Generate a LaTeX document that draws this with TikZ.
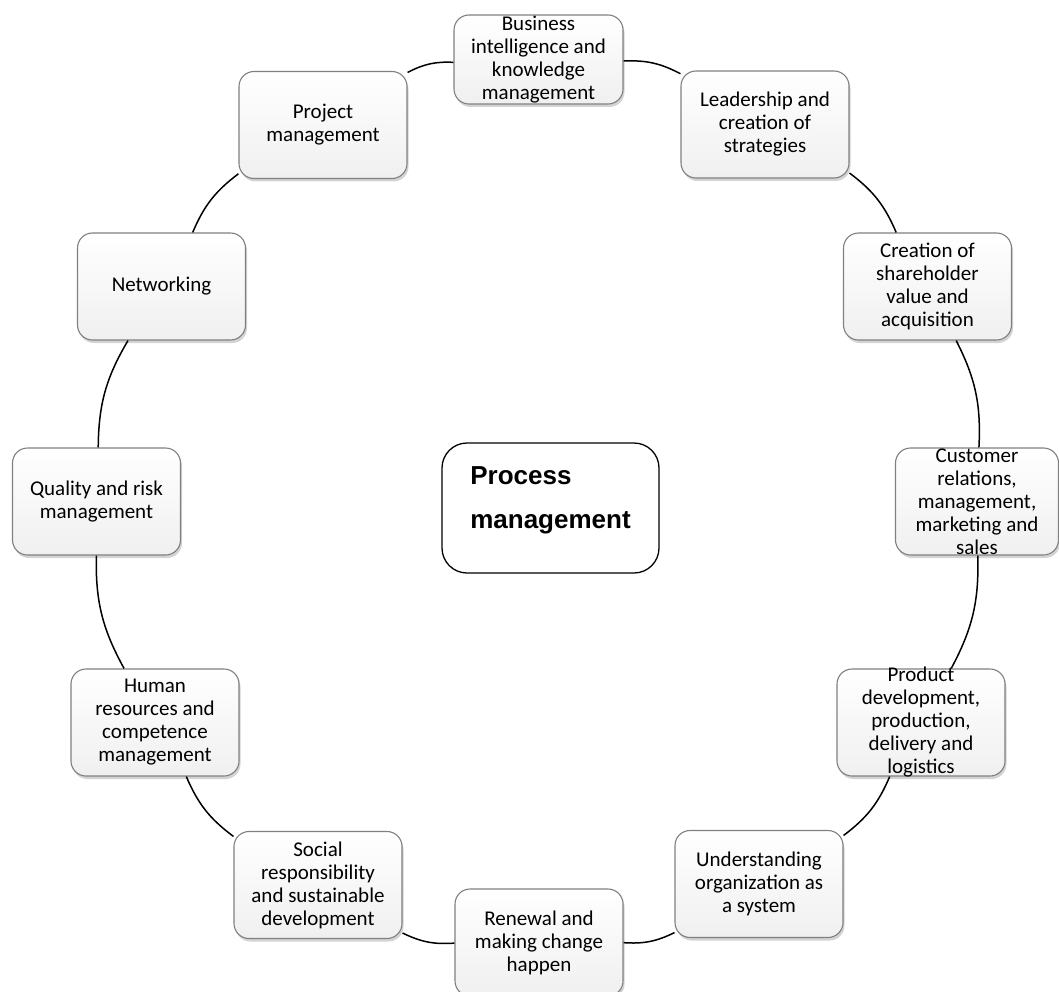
\documentclass[tikz,border=0pt]{standalone}
\usepackage{fontspec}
\setmainfont{Carlito}
\newfontfamily\arialfont{Liberation Sans}
\usetikzlibrary{shadows}
\tikzset{
  cbox/.style={draw=black!50, line width=1.1pt, rounded corners=15pt,
    top color=white, bottom color=black!6,
    drop shadow={opacity=0.35, shadow xshift=1.5pt, shadow yshift=-3pt},
    minimum width=168pt, minimum height=107pt, inner sep=0pt},
  ctext/.style={align=center, font=\fontsize{21}{23}\selectfont, inner sep=0pt},
  mainbox/.style={draw=black, line width=1.3pt, rounded corners=25pt, fill=white,
    minimum width=217pt, minimum height=130pt, inner sep=0pt},
  mtext/.style={align=left, font=\arialfont\bfseries\fontsize{26}{44}\selectfont, inner sep=0pt},
  link/.style={draw=black, line width=1.5pt}
}
\begin{document}
\begin{tikzpicture}[x=1pt,y=-1pt]
\useasboundingbox (0,0) rectangle (1059,992);
\node[cbox, minimum width=169pt, minimum height=89pt, label={[ctext]center:Business\\intelligence and\\knowledge\\management}] (n1) at (538.5,59.5) {};
\node[cbox, label={[ctext]center:Leadership and\\creation of\\strategies}] (n2) at (765,124.5) {};
\node[cbox, label={[ctext]center:Creation of\\shareholder\\value and\\acquisition}] (n3) at (927.5,286.5) {};
\node[cbox, minimum width=163pt, label={[ctext]center:Customer\\relations,\\management,\\marketing and\\sales}] (n4) at (977,501.5) {};
\node[cbox, label={[ctext]center:Product\\development,\\production,\\delivery and\\logistics}] (n5) at (921,722.5) {};
\node[cbox, label={[ctext]center:Understanding\\organization as\\a system}] (n6) at (759,884) {};
\node[cbox, label={[ctext]center:Renewal and\\making change\\happen}] (n7) at (539,942.5) {};
\node[cbox, label={[ctext]center:Social\\responsibility\\and sustainable\\development}] (n8) at (318,885) {};
\node[cbox, label={[ctext]center:Human\\resources and\\competence\\management}] (n9) at (155,722.5) {};
\node[cbox, label={[ctext]center:Quality and risk\\management}] (n10) at (96.5,501.5) {};
\node[cbox, label={[ctext]center:Networking}] (n11) at (161.5,286.5) {};
\node[cbox, label={[ctext]center:Project\\management}] (n12) at (323,125) {};
\node[mainbox, label={[mtext, yshift=8pt]center:Process\\management}] (pm) at (550.5,508) {};
\foreach \a/\b in {n1/n2,n2/n3,n3/n4,n4/n5,n5/n6,n6/n7,n7/n8,n8/n9,n9/n10,n10/n11,n11/n12,n12/n1}
  \draw[link] (\a) to[bend left=15] (\b);
\end{tikzpicture}
\end{document}
